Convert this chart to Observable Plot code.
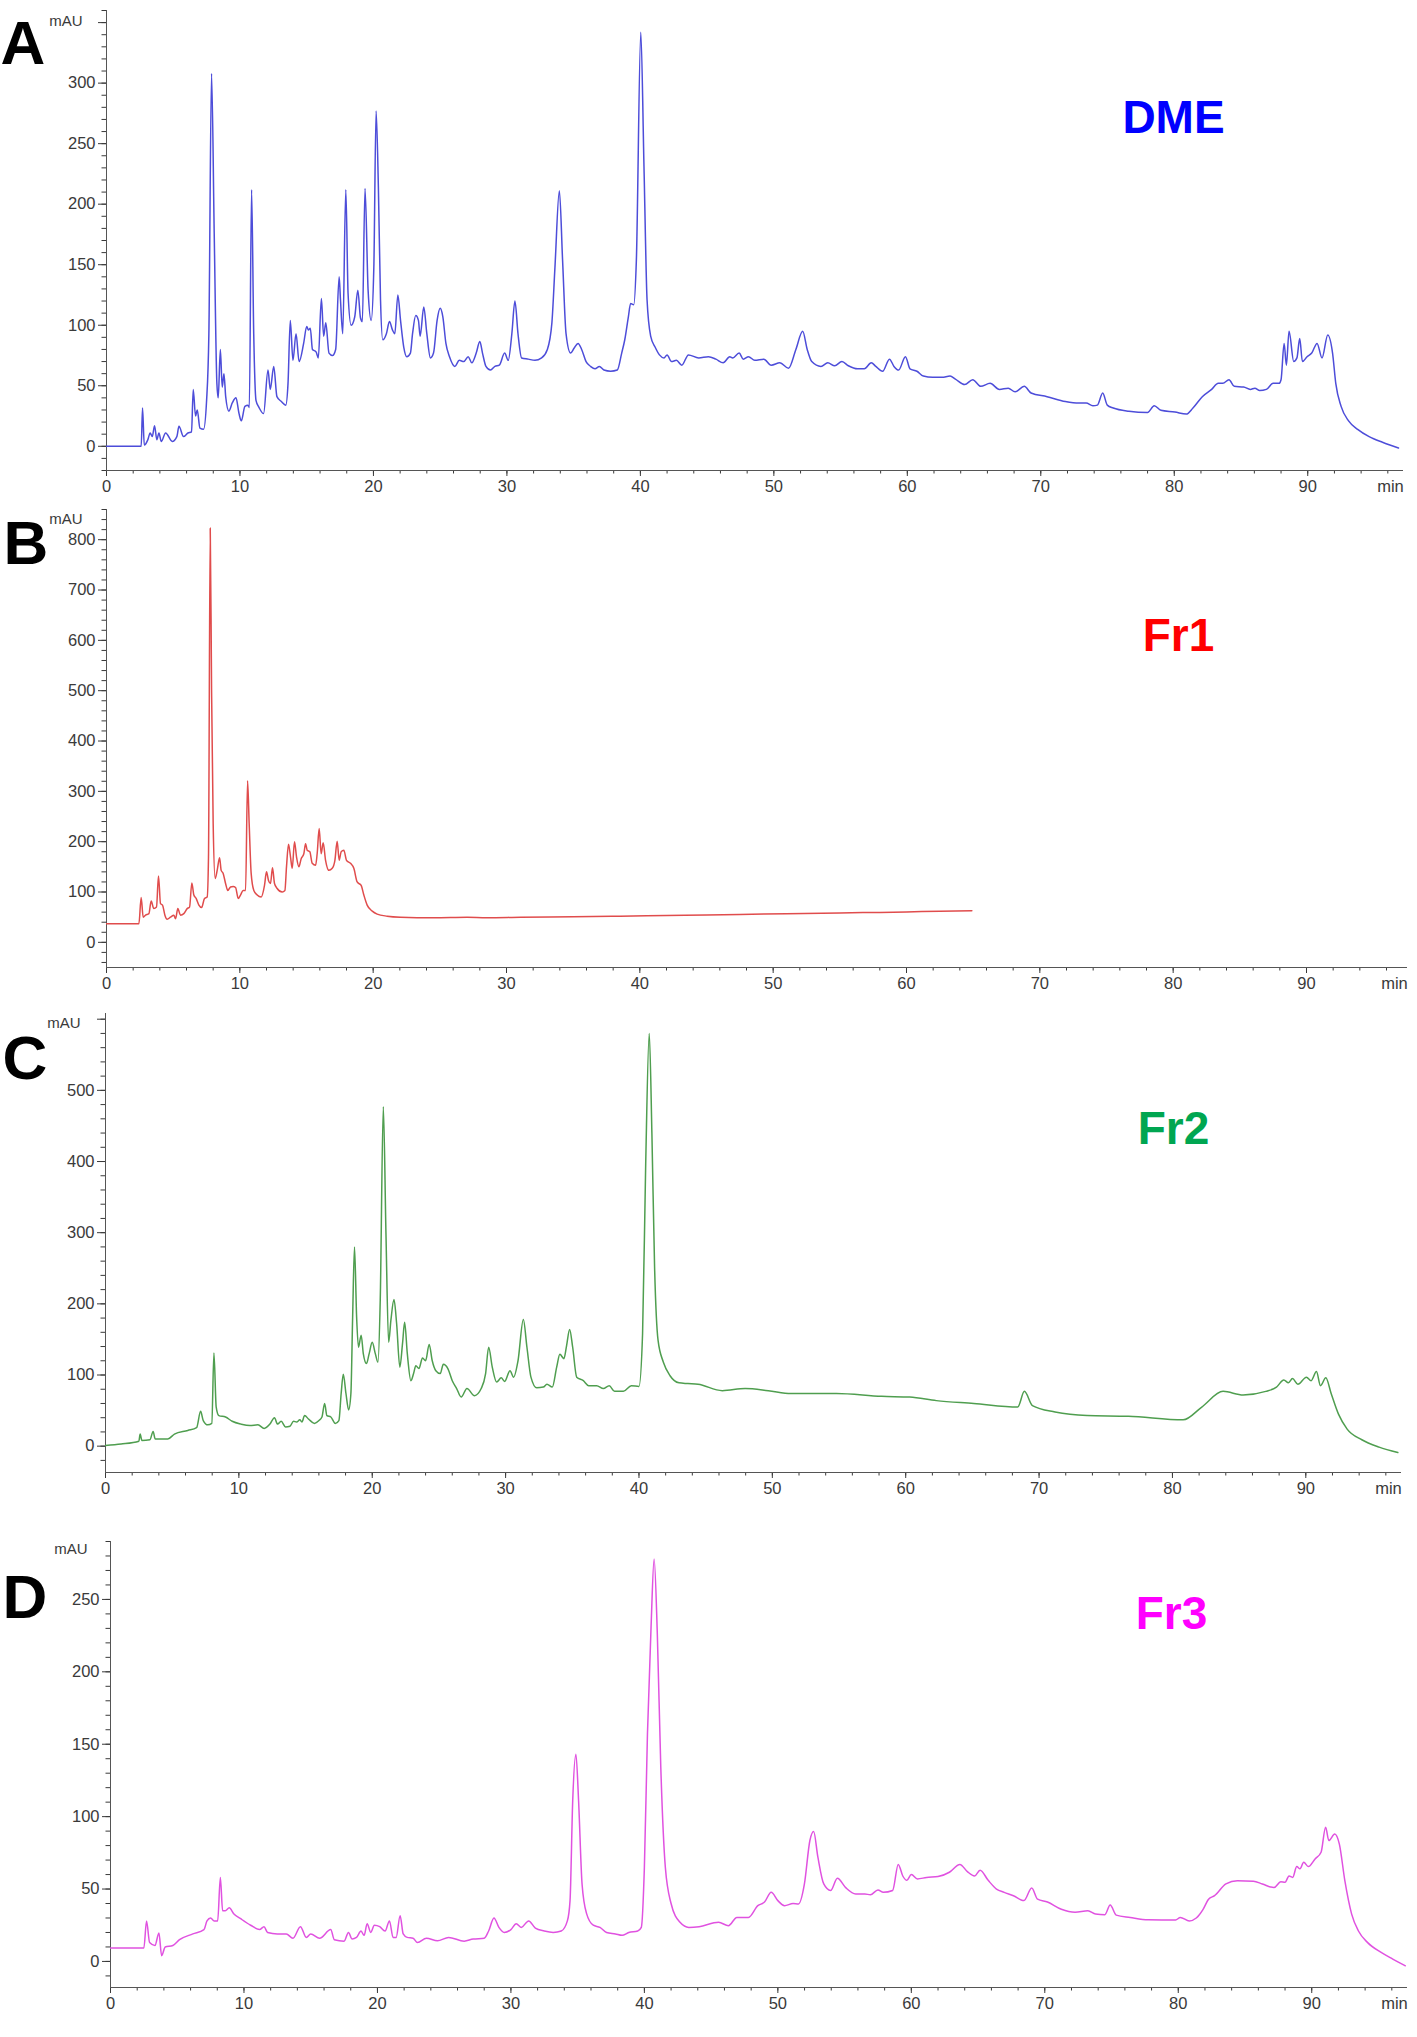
<!DOCTYPE html>
<html><head><meta charset="utf-8">
<script src="https://cdn.jsdelivr.net/npm/d3@7"></script>
<script src="https://cdn.jsdelivr.net/npm/@observablehq/plot@0.6"></script>
<style>
html,body{margin:0;padding:0;background:#fff;}
#chart svg{display:block;}
</style></head><body><div id="chart"></div>
<script>
// Retention time (min), absorbance (mAU)
const dme = [[0,0],[2.6,0],[2.7,31.6],[2.83,1],[3.1,5.5],[3.27,11],[3.43,8],[3.6,17],[3.77,5.5],[3.93,11],[4.1,4],[4.43,11],[4.93,4],[5.27,8],[5.43,16.5],[5.77,8],[6.1,11],[6.37,12],[6.5,47],[6.67,25],[6.8,30],[7.0,15],[7.27,14],[7.5,38],[7.67,93],[7.87,308],[8.07,176],[8.27,52],[8.37,40],[8.53,80],[8.67,49],[8.8,60],[8.93,41],[9.17,29],[9.43,36],[9.7,40],[9.93,27],[10.1,21],[10.37,33],[10.6,34],[10.7,32],[10.87,212],[11.03,93],[11.2,38],[11.43,32],[11.77,27],[12.1,63],[12.27,47],[12.53,66],[12.77,41],[13.1,37],[13.43,34],[13.6,52],[13.77,104],[13.97,71],[14.2,93],[14.43,70],[14.77,85],[15.0,99],[15.13,96],[15.27,97.5],[15.43,80],[15.7,78],[15.87,73],[16.1,122],[16.27,91],[16.43,102],[16.67,77],[16.93,75],[17.17,80],[17.43,140],[17.53,121],[17.7,93],[17.93,212],[18.1,126],[18.33,100],[18.6,107],[18.83,129],[19.03,106],[19.17,103],[19.37,213],[19.6,129],[19.83,104],[20.03,148],[20.2,277],[20.37,214],[20.53,121],[20.7,88],[20.97,93],[21.2,103],[21.43,96],[21.6,93],[21.83,125],[22.03,104],[22.27,82],[22.5,74],[22.77,77],[22.93,93],[23.17,108],[23.37,104],[23.5,91],[23.77,115],[24.0,93],[24.27,73],[24.5,77],[24.77,104],[25.0,114],[25.2,107],[25.43,85],[25.7,74],[26.1,66],[26.43,71],[26.77,70],[27.1,74],[27.37,69],[27.7,77],[27.97,86.5],[28.17,77],[28.43,66],[28.77,63],[29.1,66],[29.43,67],[29.83,77],[30.1,71],[30.37,93],[30.6,120],[30.83,93],[31.1,73],[31.6,72],[32.1,71],[32.6,73],[33.03,80],[33.37,102],[33.6,148],[33.93,211],[34.17,154],[34.43,93],[34.77,77],[35.03,81],[35.33,85],[35.6,80],[35.93,70],[36.27,66],[36.6,64],[36.93,66],[37.27,63],[37.77,62],[38.27,63],[38.6,77],[38.83,88],[39.1,107],[39.27,118],[39.5,117],[39.7,154],[40.03,342],[40.27,231],[40.5,121],[40.77,91],[41.1,82],[41.43,75.5],[41.77,73],[42.0,75.5],[42.33,70],[42.7,71],[43.1,67],[43.6,75.5],[44.37,73],[45.1,74],[45.66,72],[46.2,69],[46.7,74],[46.92,73],[47.4,77],[47.71,72],[48.1,74],[48.57,71],[49.25,72],[49.8,67],[50.45,69],[51.1,64.5],[51.65,80],[52.16,95],[52.5,80],[52.84,70],[53.53,66],[54.04,69],[54.56,66.5],[55.1,70],[55.58,66.5],[56.27,64],[56.78,64],[57.3,69],[57.64,66],[58.15,62],[58.66,72],[59.0,66],[59.35,63],[59.86,74],[60.2,64],[60.72,62],[61.2,58],[61.9,57],[62.6,57],[63.2,58],[63.6,55.5],[64.3,51],[64.9,55],[65.5,49.5],[66.2,52],[66.9,47],[67.56,48],[68.07,45],[68.76,49.5],[69.27,44],[70.47,41],[71.84,37],[72.86,35.7],[73.4,35.7],[73.9,33.5],[74.24,34],[74.64,44],[74.98,34],[75.43,31.6],[76.6,29],[78.0,28],[78.5,33.5],[79.0,29.7],[80.05,28.3],[80.9,26.6],[81.4,31.6],[82.1,41],[82.8,47],[83.3,52],[83.64,52],[84.1,55],[84.5,49.5],[85.2,49],[85.7,47],[86.04,48],[86.4,46],[86.9,47],[87.4,52],[87.85,52],[88.0,55],[88.23,85],[88.4,67],[88.6,95],[88.95,70],[89.19,73],[89.4,89],[89.6,70],[89.95,74],[90.3,77],[90.7,85],[91.07,73],[91.5,92],[91.86,77],[92.1,52],[92.5,33],[93.06,21],[93.74,14],[94.6,8],[95.6,3.3],[96.8,-1.4]];

const fr1 = [[0,37],[2.43,37],[2.6,89],[2.75,50],[2.93,54],[3.18,57],[3.35,82],[3.55,67],[3.75,70],[3.9,132],[4.05,77],[4.2,74],[4.38,54],[4.55,46],[4.8,50],[5.05,54],[5.18,47],[5.35,67],[5.55,54],[5.8,57],[6.05,67],[6.23,70],[6.4,118],[6.55,94],[6.73,87],[6.93,74],[7.13,69],[7.35,87],[7.55,90],[7.65,170],[7.78,823],[7.88,501],[8.0,236],[8.15,127],[8.3,143],[8.48,168],[8.6,143],[8.75,137],[8.93,117],[9.1,103],[9.3,110],[9.5,111],[9.68,109],[9.88,87],[10.05,94],[10.25,103],[10.43,103],[10.58,321],[10.7,236],[10.85,137],[11.05,103],[11.3,94],[11.6,90],[11.85,113],[12.0,140],[12.15,123],[12.3,117],[12.45,148],[12.6,117],[12.8,107],[13.18,100],[13.38,103],[13.5,150],[13.65,195],[13.8,170],[13.93,147],[14.1,200],[14.25,170],[14.43,150],[14.6,166],[14.8,176],[14.93,196],[15.05,183],[15.25,180],[15.43,157],[15.68,153],[15.8,176],[15.95,226],[16.1,176],[16.25,198],[16.43,163],[16.68,143],[16.93,147],[17.13,163],[17.3,201],[17.45,163],[17.6,180],[17.8,183],[18.0,163],[18.3,157],[18.55,147],[18.8,120],[19.1,113],[19.3,94],[19.55,74],[19.93,62],[20.3,56],[21.05,52],[22.05,50],[24.55,49],[27.05,50],[28.5,49],[31.05,50],[35,51],[38.5,52],[42,53.5],[45,54.5],[47.5,55.5],[51,57],[55,58.5],[58,59.5],[60,60.5],[62.5,62],[64.9,63]];

const fr2 = [[0,1],[1.17,3],[2.5,7],[2.6,17],[2.73,8],[3.33,9],[3.57,20.6],[3.73,10],[4.67,10],[5.17,17],[6.17,22],[6.83,26],[7.13,49],[7.33,36],[7.67,30],[7.97,32],[8.13,131],[8.3,55],[8.5,43],[9.0,41],[9.5,35],[10.17,31],[10.83,29],[11.43,30],[11.9,25],[12.33,31],[12.67,40],[12.9,31],[13.17,35],[13.5,27],[13.83,28],[14.1,35],[14.33,34],[14.57,37],[14.73,34],[14.93,43],[15.23,38],[15.67,32],[16.0,36],[16.23,41],[16.43,60],[16.6,43],[16.9,41],[17.23,32],[17.5,36],[17.67,74],[17.83,101],[18.03,74],[18.23,51],[18.4,74],[18.53,181],[18.67,280],[18.83,181],[18.97,139],[19.17,156],[19.33,130],[19.57,116],[19.77,130],[20.0,146],[20.23,130],[20.43,118],[20.6,205],[20.83,477],[21.03,298],[21.23,146],[21.4,177],[21.63,206],[21.83,172],[22.07,111],[22.27,144],[22.43,174],[22.63,130],[22.9,92],[23.1,102],[23.27,113],[23.5,109],[23.77,124],[24.0,120],[24.27,143],[24.5,120],[24.77,106],[25.1,102],[25.33,115],[25.67,109],[26.0,92],[26.33,81],[26.67,69],[27.1,81],[27.67,71],[28.17,81],[28.5,102],[28.73,139],[29.0,111],[29.33,90],[29.67,96],[29.93,91],[30.33,106],[30.6,97],[30.93,120],[31.33,178],[31.6,139],[31.9,97],[32.33,82],[32.83,83],[33.1,87],[33.5,83],[33.83,111],[34.07,129],[34.37,123],[34.57,141],[34.8,164],[35.03,139],[35.33,97],[35.83,92],[36.23,85],[36.83,85],[37.33,81],[37.77,85],[38.17,77],[38.83,77],[39.43,85],[40.0,84],[40.27,158],[40.5,392],[40.77,580],[40.97,439],[41.17,252],[41.43,149],[41.83,118],[42.33,99],[43.0,89],[43.67,88],[44.43,87],[46.25,78],[47.96,81],[49.7,78],[51.4,74],[54.8,74],[58.2,70],[60.3,69],[62.3,64],[65.1,60],[68.4,55],[68.9,77],[69.5,57],[71.2,48],[73.6,43],[76.7,42],[80.8,37],[82.2,55],[83.8,77],[85.3,72],[87.0,77],[87.8,83],[88.35,93],[88.7,89],[89.0,95],[89.4,87],[90.05,97],[90.4,92],[90.8,105],[91.1,85],[91.5,96],[91.9,74],[92.45,45],[93.1,24],[94.2,9],[95.5,-1.4],[96.9,-9]];

const fr3 = [[0,9.2],[2.5,9.2],[2.7,28],[2.93,13],[3.33,11],[3.63,19.6],[3.83,4],[4.1,10],[4.67,11],[5.17,15],[6.17,19],[7.0,22],[7.23,28],[7.5,30],[7.77,28],[8.03,28],[8.23,58],[8.4,35],[8.6,35],[8.9,37],[9.23,33],[9.83,29],[10.5,25],[11.17,22],[11.5,24],[11.77,20],[12.5,19],[13.17,19],[13.67,16],[14.23,24],[14.67,16.6],[15.0,19],[15.67,16],[16.5,22],[16.77,15],[17.5,14],[17.83,20],[18.1,15.5],[18.43,16.6],[18.77,21],[19.0,18],[19.23,26],[19.5,20],[19.77,25],[20.17,24],[20.57,21],[20.9,28],[21.17,16.6],[21.4,16.6],[21.7,31.6],[21.93,19],[22.23,16.6],[22.67,16],[23.0,13],[23.67,16],[24.5,14.3],[25.33,16.6],[26.5,14],[27.17,15.5],[28.0,16],[28.33,21],[28.73,30],[29.1,23.5],[29.5,20],[30.0,22],[30.4,26],[30.77,23.5],[31.33,28],[31.83,23],[32.5,21],[33.17,20],[33.77,21],[34.23,28],[34.43,42],[34.63,111],[34.87,143],[35.07,111],[35.33,53.5],[35.67,33],[36.17,25],[36.67,23.5],[37.17,20],[37.83,19],[38.33,18],[38.83,20],[39.5,21],[39.77,23.5],[40.0,65],[40.23,157],[40.5,231],[40.73,278],[40.97,226],[41.23,134],[41.57,65],[42.0,40],[42.67,27],[43.33,23.5],[44.1,24],[45.56,27],[46.3,24.7],[46.93,30.4],[47.8,30.4],[48.5,38.5],[49.0,41],[49.5,47.7],[50.0,42],[50.5,38.5],[51.14,40],[51.55,39.7],[51.99,53.5],[52.4,83.5],[52.68,89.7],[53.0,72],[53.44,53.5],[53.95,49],[54.46,57.4],[55.08,51],[55.83,46.6],[56.52,46.6],[56.93,46],[57.5,49.4],[57.9,47.7],[58.6,49],[59.02,67],[59.36,59],[59.67,56],[60.0,60],[60.46,57],[61.14,58],[62.0,58.6],[62.85,61.6],[63.64,67],[64.2,62],[64.74,59],[65.15,63],[65.76,56],[66.38,50],[66.96,47.7],[67.65,45.4],[68.44,42],[69.02,50.7],[69.46,43],[70.2,41],[71.24,36],[72.27,34],[73.23,35],[73.8,32.7],[74.5,32.3],[74.9,39],[75.35,32],[76.4,30.4],[77.75,28.8],[79.8,28.6],[80.15,30.4],[80.83,28],[81.35,30],[81.86,36],[82.27,43],[82.72,45.4],[83.57,53.5],[84.43,55.8],[85.63,55.4],[86.3,53.5],[87.17,51],[87.68,55],[88.0,54.7],[88.3,59],[88.57,58],[88.88,65.5],[89.12,64],[89.4,68.5],[89.74,65.5],[90.25,70.8],[90.7,75.4],[91.04,92.7],[91.28,83.5],[91.72,88],[92.07,81],[92.48,55.8],[92.99,32.7],[93.5,21],[94.19,13],[95.2,6.2],[96.07,1.6],[97.0,-3]];

// Axis tick labels
const xTickLabels = [0,10,20,30,40,50,60,70,80,90];
const dmeYTicks = [0,50,100,150,200,250,300];
const fr1YTicks = [0,100,200,300,400,500,600,700,800];
const fr2YTicks = [0,100,200,300,400,500];
const fr3YTicks = [0,50,100,150,200,250];
const panelLetters = ["A","B","C","D"];
const sampleNames = ["DME","Fr1","Fr2","Fr3"];

const FONT = "'Liberation Sans', Arial, Helvetica, sans-serif";

function panel(c) {
  const marks = [
    Plot.axisY({ticks: c.yTicks, tickSize: 8, tickPadding: 3, label: null, fontSize: 16.5}),
    Plot.axisY({ticks: c.yMinor, tickSize: 4.5, text: null, label: null}),
    Plot.axisX({ticks: xTickLabels, tickSize: 6, tickPadding: 4, label: null, fontSize: 16.5}),
    Plot.axisX({ticks: d3.range(0, 97, 2), tickSize: 3.5, text: null, label: null}),
    Plot.frame({anchor: "left", stroke: "#555"}),
    Plot.frame({anchor: "bottom", stroke: "#555"}),
    Plot.line(c.data, {x: d => d[0], y: d => d[1], stroke: c.stroke, strokeWidth: 1.5, curve: "monotone-x", clip: true}),
    Plot.text([c.letter], {text: d => d, frameAnchor: "top-left", dx: c.letterX - c.ml, dy: c.letterBase - c.mt, textAnchor: "start", lineAnchor: "bottom", fontSize: 62, fontWeight: "bold", fill: "#000"}),
    Plot.text(["mAU"], {text: d => d, frameAnchor: "top-left", dx: c.mauRight - c.ml, dy: c.mauBase - c.mt, textAnchor: "end", lineAnchor: "bottom", fontSize: 15}),
    Plot.text([c.name], {text: d => d, frameAnchor: "top-left", dx: c.nameX - c.ml, dy: c.nameBase - c.mt, textAnchor: "middle", lineAnchor: "bottom", fontSize: 46, fontWeight: "bold", fill: c.nameColor}),
    Plot.text(["min"], {text: d => d, frameAnchor: "bottom-right", dx: -12, dy: 10, textAnchor: "middle", lineAnchor: "top", fontSize: 16.5})
  ];
  if (c.yExtra) marks.unshift(Plot.axisY({ticks: c.yExtra, tickSize: 8, text: null, label: null}));
  return Plot.plot({
    width: 1417, height: c.height,
    marginTop: c.mt, marginBottom: c.mb, marginLeft: c.ml, marginRight: c.mr,
    x: {domain: c.xDomain}, y: {domain: c.yDomain},
    style: {fontFamily: FONT, fontSize: "16px", color: "#3a3a3a", background: "#fff", overflow: "visible"},
    marks
  });
}

const chart = document.getElementById("chart");
chart.append(panel({data: dme, stroke: "#4d4dd9", height: 500, mt: 10, mb: 30, ml: 106, mr: 15,
  xDomain: [0, 97.1], yDomain: [-20, 360], yTicks: dmeYTicks, yExtra: [350], yMinor: d3.range(-20, 361, 10),
  letter: panelLetters[0], letterX: 0, letterBase: 63, mauRight: 82, mauBase: 25,
  name: sampleNames[0], nameColor: "#0000ff", nameX: 1173, nameBase: 132}));
chart.append(panel({data: fr1, stroke: "#e04c4c", height: 500, mt: 9, mb: 33, ml: 106, mr: 11,
  xDomain: [0, 97.5], yDomain: [-50, 860], yTicks: fr1YTicks, yMinor: d3.range(-40, 861, 20),
  letter: panelLetters[1], letterX: 3, letterBase: 63, mauRight: 82, mauBase: 23,
  name: sampleNames[1], nameColor: "#ff0000", nameX: 1178, nameBase: 150}));
chart.append(panel({data: fr2, stroke: "#4f9e4f", height: 500, mt: 13, mb: 28, ml: 105, mr: 17,
  xDomain: [0, 97.1], yDomain: [-37, 608], yTicks: fr2YTicks, yExtra: [600], yMinor: d3.range(-20, 601, 20),
  letter: panelLetters[2], letterX: 2, letterBase: 78, mauRight: 80, mauBase: 27,
  name: sampleNames[2], nameColor: "#00a651", nameX: 1173, nameBase: 143}));
chart.append(panel({data: fr3, stroke: "#e052e0", height: 537, mt: 41, mb: 50, ml: 110, mr: 11,
  xDomain: [0, 97.1], yDomain: [-18, 290], yTicks: fr3YTicks, yMinor: d3.range(-10, 291, 10),
  letter: panelLetters[3], letterX: 2, letterBase: 117, mauRight: 87, mauBase: 53,
  name: sampleNames[3], nameColor: "#ff00ff", nameX: 1171, nameBase: 128}));
</script></body></html>
